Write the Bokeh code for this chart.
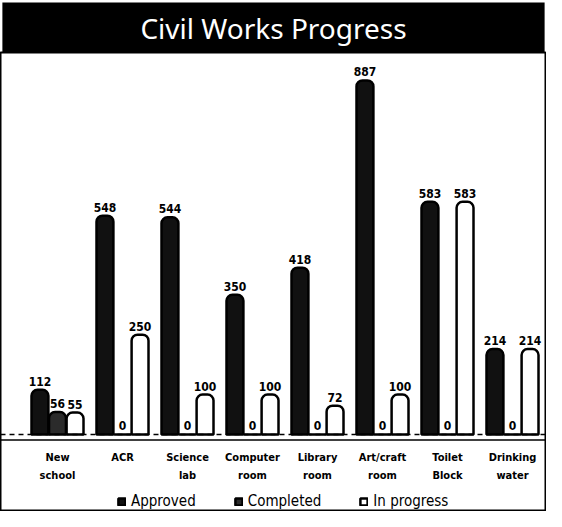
from bokeh.plotting import figure
from bokeh.models import ColumnDataSource, Range1d, Span, Legend, LegendItem, Title
from bokeh.transform import dodge
from bokeh.core.properties import value
from bokeh.embed import file_html
from bokeh.resources import INLINE

categories = ["New school", "ACR", "Science lab", "Computer room", "Library room",
              "Art/craft room", "Toilet Block", "Drinking water"]
tick_labels = ["New\nschool", "ACR", "Science\nlab", "Computer\nroom", "Library\nroom",
               "Art/craft\nroom", "Toilet\nBlock", "Drinking\nwater"]
approved = [112, 548, 544, 350, 418, 887, 583, 214]
completed = [56, 0, 0, 0, 0, 0, 0, 0]
in_progress = [55, 250, 100, 100, 72, 100, 583, 214]
series_names = ["Approved", "Completed", "In progress"]

idx = list(range(len(categories)))
src = ColumnDataSource(dict(x=idx, approved=approved, completed=completed, in_progress=in_progress,
                            a_lbl=[str(v) for v in approved],
                            c_lbl=[str(v) for v in completed],
                            i_lbl=[str(v) for v in in_progress],
                            cat=tick_labels, zero=[0] * len(idx)))

p = figure(width=546, height=511, output_backend="svg", toolbar_location=None,
           x_range=Range1d(-0.877, 7.523), y_range=Range1d(-193, 957))
p.min_border_left = 0
p.min_border_right = 0
p.min_border_top = 0
p.min_border_bottom = 0
p.outline_line_color = "black"
p.outline_line_width = 2
p.grid.visible = False
p.xaxis.visible = False
p.yaxis.visible = False
p.background_fill_color = "white"
p.border_fill_color = "white"

t = Title(text="Civil Works Progress", align="center", text_color="white",
          text_font="Noto Sans", text_font_size="28px", text_font_style="normal",
          background_fill_color="black", padding=dict(left=138, right=138, top=6, bottom=6),
          standoff=0)
p.add_layout(t, "above")

offsets = [-0.27, 0.0, 0.27]
cols = ["approved", "completed", "in_progress"]
lbls = ["a_lbl", "c_lbl", "i_lbl"]
fills = ["#111111", "#2b2b2b", "white"]
renderers = []
for off, col, lb, fc in zip(offsets, cols, lbls, fills):
    r = p.vbar(x=dodge("x", off, range=p.x_range), top=col, bottom=0, width=0.26, source=src,
               fill_color=fc, line_color="black", line_width=2.5, border_radius=(6, 6, 0, 0))
    renderers.append(r)
    p.text(x=dodge("x", off, range=p.x_range), y=col, text=lb, source=src, y_offset=-4,
           text_align="center", text_baseline="bottom", text_font=value("DejaVu Sans Condensed"),
           text_font_size="12px", text_font_style="bold", text_color="black")

# baseline (dashed floor) and solid axis line below it
p.add_layout(Span(location=0, dimension="width", line_color="black", line_width=1.5, line_dash="5 4"))
p.add_layout(Span(location=-14, dimension="width", line_color="black", line_width=1.5))

# category labels under the axis
p.text(x="x", y="zero", text="cat", source=src, y_offset=17, text_align="center",
       text_baseline="top", text_font=value("DejaVu Sans Condensed"), text_font_size="11px",
       text_font_style="bold", text_color="black", text_line_height=1.35)

legend = Legend(items=[LegendItem(label=n, renderers=[r]) for n, r in zip(series_names, renderers)],
                orientation="horizontal", location=(117, 1), border_line_color=None,
                background_fill_alpha=0, label_text_color="black",
                label_text_font="DejaVu Sans Condensed", label_text_font_size="15px",
                glyph_width=9, glyph_height=9, spacing=38, padding=2, margin=0)
p.add_layout(legend)

open("out.html", "w").write(file_html(p, INLINE))
